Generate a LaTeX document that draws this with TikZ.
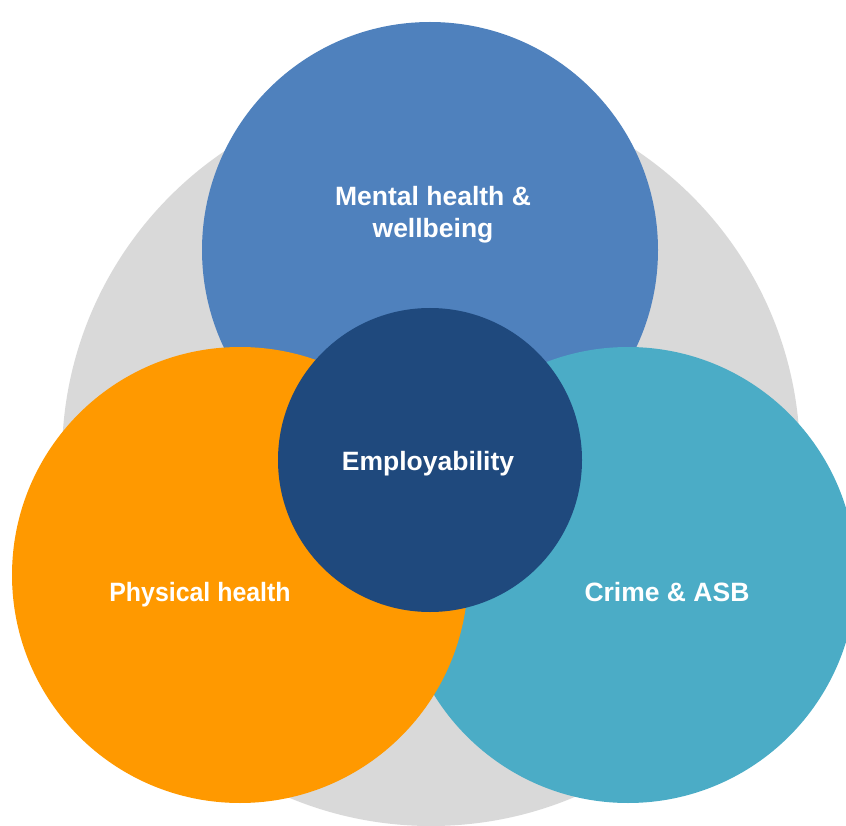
\documentclass[tikz,border=0pt]{standalone}
\usepackage{fontspec}
\setmainfont{Liberation Sans}
\definecolor{cgray}{HTML}{D9D9D9}
\definecolor{cblue}{HTML}{4F81BD}
\definecolor{corange}{HTML}{FF9900}
\definecolor{cteal}{HTML}{4BACC6}
\definecolor{cdark}{HTML}{1F497D}
\begin{document}
\begin{tikzpicture}[x=1pt,y=-1pt,
  lbl/.style={text=white,font=\fontsize{26.5}{32}\selectfont\bfseries,align=center,anchor=base,inner sep=0pt}]
\useasboundingbox (0,0) rectangle (846,826);
\begin{scope}
\clip (0,0) rectangle (846,826);
\fill[cgray] (431,457) circle[radius=369];
\fill[cblue] (430,250) circle[radius=228];
\fill[cteal] (628,575) circle[radius=228];
\fill[corange] (240,575) circle[radius=228];
\fill[cdark] (430,460) circle[radius=152];
\end{scope}
\node[lbl] (mental) at (433,205.5) {Mental health \&};
\node[lbl] (well) at (433,238) {wellbeing};
\node[lbl] (emp) at (428,470.5) {Employability};
\node[lbl] (phys) at (200,601.5) {\scalebox{0.94}[1]{Physical health}};
\node[lbl] (crime) at (667,601.5) {Crime \& ASB};
\end{tikzpicture}
\end{document}
